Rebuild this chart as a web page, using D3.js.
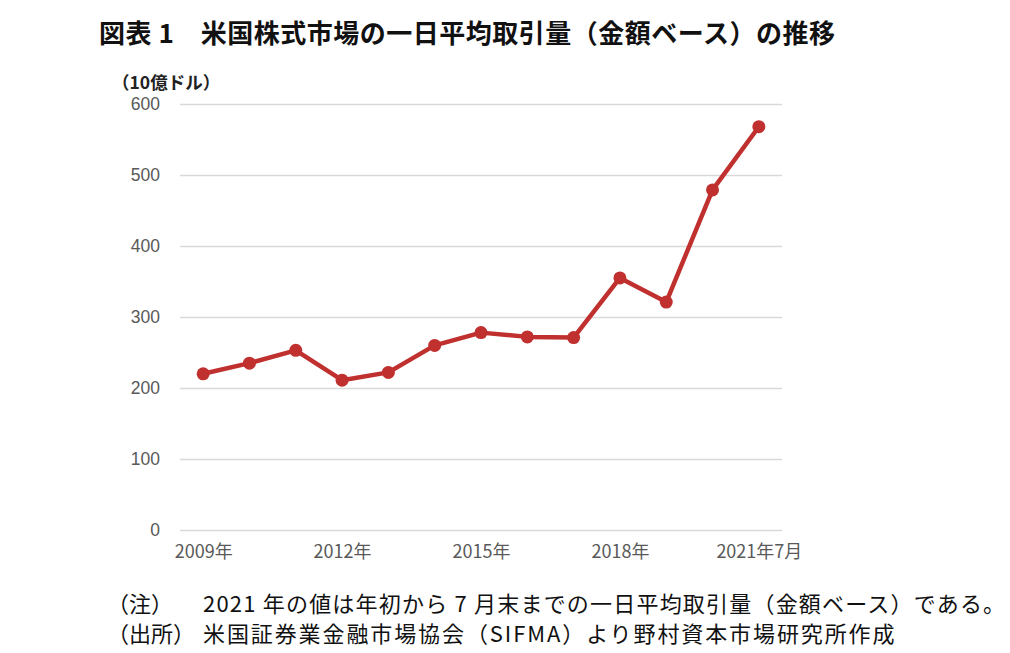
<!DOCTYPE html>
<html><head><meta charset="utf-8">
<script src="https://cdn.jsdelivr.net/npm/d3@7"></script>
<style>
body{margin:0;background:#fff;}
svg{display:block;}
</style></head>
<body>
<svg id="chart" width="1010" height="653"></svg>
<script>
const years = ["2009","2010","2011","2012","2013","2014","2015","2016","2017","2018","2019","2020","2021"];
const volumes = [220, 235, 253, 211, 222, 260, 278, 272, 271, 355, 321, 479, 568];
const xTickLabels = {"2009":"2009年","2012":"2012年","2015":"2015年","2018":"2018年","2021":"2021年7月"};
const yTicks = [0,100,200,300,400,500,600];

(function(){
const svg = d3.select("#chart");
const jp = "'Noto Sans CJK JP', sans-serif";
const pL = 180, pR = 782, pT = 104, pB = 530;

const x = d3.scalePoint().domain(years).range([pL, pR]).padding(0.5);
const y = d3.scaleLinear().domain([0, 600]).range([pB, pT]);

// title
svg.append("text").attr("x", 99).attr("y", 43)
  .attr("font-family", jp).attr("font-weight", "bold").attr("font-size", 26)
  .attr("letter-spacing", 0.5)
  .attr("fill", "#111").text("図表 1　米国株式市場の一日平均取引量（金額ベース）の推移");

// unit label
svg.append("text").attr("x", 112).attr("y", 89)
  .attr("font-family", jp).attr("font-weight", "bold").attr("font-size", 17.5)
  .attr("fill", "#222").text("（10億ドル）");

// gridlines + y axis
const yAxis = d3.axisLeft(y).tickValues(yTicks).tickSize(-(pR - pL)).tickPadding(20);
const gy = svg.append("g").attr("transform", `translate(${pL},0)`).call(yAxis);
gy.select(".domain").remove();
gy.selectAll(".tick line").attr("stroke", "#d9d9d9").attr("stroke-width", 1.5);
gy.selectAll(".tick text").attr("font-family", "'Liberation Sans', Arial, sans-serif")
  .attr("font-size", 17.5).attr("fill", "#595959");

// x axis
const xAxis = d3.axisBottom(x).tickValues(Object.keys(xTickLabels))
  .tickFormat(d => xTickLabels[d]).tickSize(0).tickPadding(15);
const gx = svg.append("g").attr("transform", `translate(0,${pB})`).call(xAxis);
gx.select(".domain").remove();
gx.selectAll(".tick text").attr("font-family", jp)
  .attr("font-size", 18).attr("fill", "#595959");

// line
const line = d3.line().x((d, i) => x(years[i])).y(d => y(d));
svg.append("path").datum(volumes).attr("d", line)
  .attr("fill", "none").attr("stroke", "#C0302F").attr("stroke-width", 4.5)
  .attr("stroke-linejoin", "round");
svg.selectAll("circle.pt").data(volumes).enter().append("circle")
  .attr("class", "pt").attr("cx", (d, i) => x(years[i])).attr("cy", d => y(d))
  .attr("r", 6.5).attr("fill", "#C0302F");

// notes
const notes = [
  {label:"（注）", text:"2021 年の値は年初から 7 月末までの一日平均取引量（金額ベース）である。", y:612, ls:1.2},
  {label:"（出所）", text:"米国証券業金融市場協会（SIFMA）より野村資本市場研究所作成", y:642, ls:1.9}
];
notes.forEach(n => {
  svg.append("text").attr("x", 107).attr("y", n.y).attr("font-family", jp)
    .attr("font-size", 22).attr("fill", "#111").text(n.label);
  svg.append("text").attr("x", 203).attr("y", n.y).attr("font-family", jp)
    .attr("font-size", 22).attr("letter-spacing", n.ls).attr("fill", "#111").text(n.text);
});
})();
</script>
</body></html>
